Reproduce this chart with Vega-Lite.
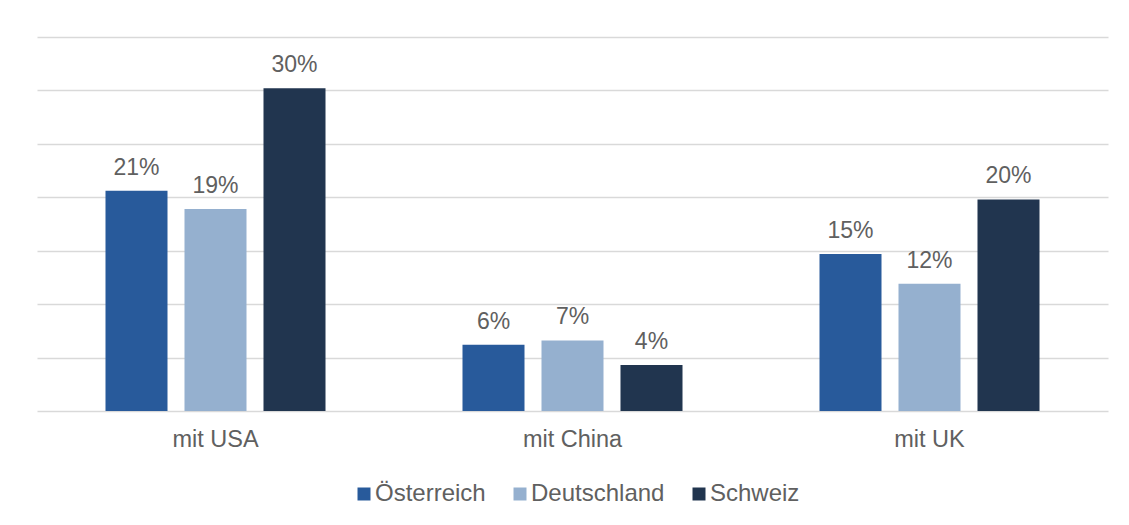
{
  "$schema": "https://vega.github.io/schema/vega-lite/v6.json",
  "width": 1071,
  "height": 374,
  "autosize": {"type": "none"},
  "padding": {"left": 37, "top": 37, "right": 21, "bottom": 114},
  "background": "white",
  "config": {"view": {"stroke": null}, "font": "Liberation Sans"},
  "data": {
    "values": [
      {"Gruppe": "mit USA", "Land": "Österreich", "Wert": 0.206},
      {"Gruppe": "mit USA", "Land": "Deutschland", "Wert": 0.189},
      {"Gruppe": "mit USA", "Land": "Schweiz", "Wert": 0.302},
      {"Gruppe": "mit China", "Land": "Österreich", "Wert": 0.062},
      {"Gruppe": "mit China", "Land": "Deutschland", "Wert": 0.066},
      {"Gruppe": "mit China", "Land": "Schweiz", "Wert": 0.043},
      {"Gruppe": "mit UK", "Land": "Österreich", "Wert": 0.147},
      {"Gruppe": "mit UK", "Land": "Deutschland", "Wert": 0.119},
      {"Gruppe": "mit UK", "Land": "Schweiz", "Wert": 0.198}
    ]
  },
  "encoding": {
    "x": {
      "field": "Gruppe", "type": "nominal",
      "sort": ["mit USA", "mit China", "mit UK"],
      "scale": {"paddingInner": 0, "paddingOuter": 0},
      "axis": {"title": null, "labelAngle": 0, "labelFontSize": 23.5, "labelColor": "#606060", "labelPadding": 16, "ticks": false, "domain": false}
    },
    "xOffset": {
      "field": "Land", "type": "nominal",
      "sort": ["Österreich", "Deutschland", "Schweiz"],
      "scale": {"paddingInner": 0.215, "paddingOuter": 0.867}
    },
    "y": {
      "field": "Wert", "type": "quantitative",
      "scale": {"domain": [0, 0.35], "nice": false},
      "axis": {"title": null, "labels": false, "ticks": false, "domain": false,
        "values": [0, 0.05, 0.1, 0.15, 0.2, 0.25, 0.3, 0.35],
        "gridColor": "#d9d9d9", "gridWidth": 1.5}
    }
  },
  "layer": [
    {
      "mark": {"type": "bar"},
      "encoding": {
        "color": {
          "field": "Land", "type": "nominal",
          "scale": {"domain": ["Österreich", "Deutschland", "Schweiz"], "range": ["#285A9B", "#95B0CF", "#21354F"]},
          "legend": {"title": null, "orient": "none", "legendX": 315, "legendY": 445, "direction": "horizontal",
            "labelFontSize": 24, "labelColor": "#606060", "symbolType": "square", "symbolSize": 169,
            "labelOffset": -1, "columnPadding": 22, "symbolStrokeWidth": 0, "symbolOpacity": 1}
        }
      }
    },
    {
      "mark": {"type": "text", "dy": -16, "baseline": "alphabetic", "fontSize": 23, "color": "#606060"},
      "encoding": {"text": {"field": "Wert", "type": "quantitative", "format": ".0%"}}
    }
  ]
}
